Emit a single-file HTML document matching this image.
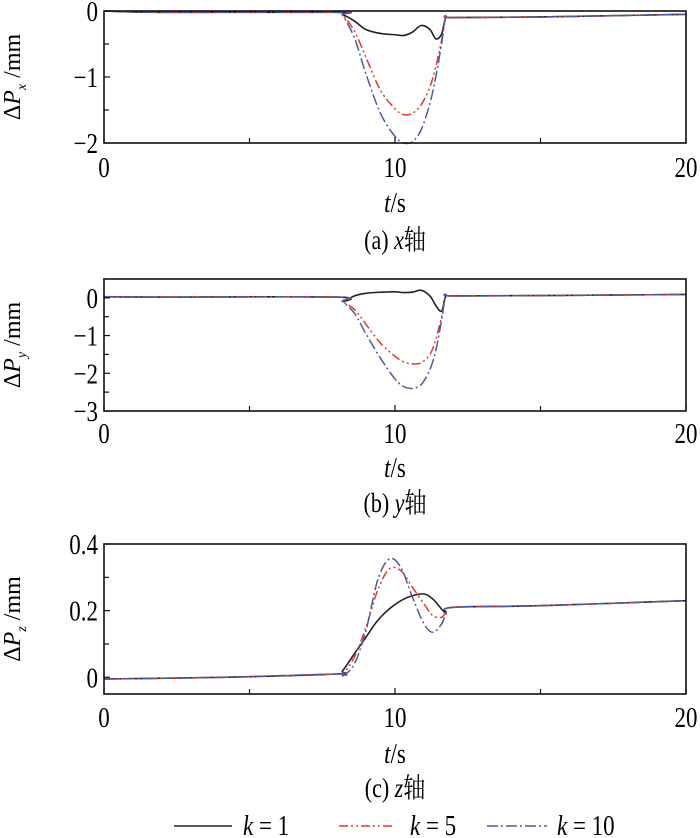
<!DOCTYPE html>
<html><head><meta charset="utf-8"><style>
html,body{margin:0;padding:0;background:#fff;}
svg{display:block;font-family:"Liberation Serif","Noto Serif CJK SC",serif;}
</style></head><body>
<svg id="chart" width="700" height="838" viewBox="0 0 700 838" xmlns="http://www.w3.org/2000/svg"></svg>
<script>
const tAB = [0,2,8,8.2,8.6,9,9.5,10,10.3,10.6,10.9,11.2,11.4,11.6,11.75,12,15,20];
const ax_k1 = [0,-0.02,-0.02,-0.05,-0.15,-0.28,-0.34,-0.36,-0.37,-0.32,-0.22,-0.28,-0.42,-0.35,-0.1,-0.1,-0.09,-0.05];
const ax_k5 = [0,-0.02,-0.02,-0.06,-0.3,-0.7,-1.2,-1.48,-1.57,-1.55,-1.42,-1.15,-0.85,-0.45,-0.1,-0.1,-0.09,-0.05];
const ax_k10 = [0,-0.02,-0.02,-0.07,-0.4,-0.95,-1.55,-1.9,-2.0,-1.98,-1.8,-1.4,-1.0,-0.5,-0.1,-0.1,-0.09,-0.05];
const by_k1 = [0.03,0.02,0.02,-0.1,0.05,0.12,0.15,0.16,0.14,0.15,0.2,0.05,-0.2,-0.35,0.05,0.05,0.06,0.09];
const by_k5 = [0.03,0.02,0.02,-0.1,-0.3,-0.7,-1.2,-1.55,-1.7,-1.75,-1.72,-1.5,-1.1,-0.5,0.05,0.05,0.06,0.09];
const by_k10 = [0.03,0.02,0.02,-0.1,-0.4,-0.95,-1.6,-2.15,-2.35,-2.4,-2.3,-1.9,-1.4,-0.6,0.05,0.05,0.06,0.09];
const tC = [0,4,8,8.2,8.6,9,9.4,9.8,10.2,10.6,11,11.3,11.6,11.75,12,15,20];
const cz_k1 = [-0.005,0,0.01,0.02,0.07,0.12,0.17,0.205,0.23,0.245,0.25,0.235,0.205,0.195,0.21,0.215,0.23];
const cz_k5 = [-0.005,0,0.01,0.01,0.06,0.15,0.26,0.325,0.32,0.27,0.22,0.185,0.18,0.195,0.21,0.215,0.23];
const cz_k10 = [-0.005,0,0.01,0.005,0.04,0.14,0.29,0.355,0.33,0.24,0.16,0.135,0.16,0.19,0.21,0.215,0.23];
const xTicks = [0,10,20];
const xMinor = [5,15];
const yTicksA = [0,-1,-2];
const yTicksB = [0,-1,-2,-3];
const yTicksC = [0,0.2,0.4];
const legendLabels = ["k = 1","k = 5","k = 10"];

const NS="http://www.w3.org/2000/svg";
const svg=document.getElementById('chart');
function el(tag,attrs,parent){const e=document.createElementNS(NS,tag);for(const k in attrs)e.setAttribute(k,attrs[k]);(parent||svg).appendChild(e);return e;}
const SY=1.25;
function stext(x,y,anchor,size,parent){return el('text',{x:0,y:0,transform:'translate('+x+','+y+') scale(1,'+SY+')','text-anchor':anchor,'font-size':size},parent);}
const X0=104,X1=686;
function sx(t){return X0+(t/20)*(X1-X0);}
const styles=[{c:'#222',d:'none',w:1.6},{c:'#e03a28',d:'9 3 2 3 2 3',w:1.5},{c:'#4a5aa0',d:'11 3 2 3',w:1.5}];
function smooth(pts){let d='M'+pts[0][0]+','+pts[0][1];for(let i=0;i<pts.length-1;i++){const p0=pts[Math.max(0,i-1)],p1=pts[i],p2=pts[i+1],p3=pts[Math.min(pts.length-1,i+2)];const c1x=p1[0]+(p2[0]-p0[0])/6,c1y=p1[1]+(p2[1]-p0[1])/6,c2x=p2[0]-(p3[0]-p1[0])/6,c2y=p2[1]-(p3[1]-p1[1])/6;d+=' C'+c1x+','+c1y+' '+c2x+','+c2y+' '+p2[0]+','+p2[1];}return d;}

function panel(id,top,bot,ymin,ymax,yt,yminor,ts,series,sub,labY,tsY,capY,capLetter,capAxis){
  const g=el('g',{});
  
  
  function sy(v){return bot-(v-ymin)/(ymax-ymin)*(bot-top);}
  series.forEach((s,i)=>{
    const pts=ts.map((t,j)=>[sx(t),sy(s[j])]);
    const p=el('path',{d:smooth(pts),fill:'none',stroke:styles[i].c,'stroke-width':styles[i].w,'stroke-dasharray':styles[i].d},g);
    
    
  });
  const f=el('rect',{x:X0,y:top,width:X1-X0,height:bot-top,fill:'none',stroke:'#111','stroke-width':1.6},g);
  
  
  xTicks.forEach(t=>{
    el('line',{x1:sx(t),x2:sx(t),y1:bot,y2:bot-6,stroke:'#111','stroke-width':1.2},g);
    const tx=stext(sx(t),labY+10,'middle',23,g);tx.textContent=t;
    
    
  });
  xMinor.forEach(t=>el('line',{x1:sx(t),x2:sx(t),y1:bot,y2:bot-5,stroke:'#111','stroke-width':1.2},g));
  yt.forEach(v=>{
    el('line',{x1:X0,x2:X0+6,y1:sy(v),y2:sy(v),stroke:'#111','stroke-width':1.2},g);
    const tx=stext(X0-6,sy(v)+10,'end',23,g);tx.textContent=String(v).replace('-','\u2212');
    
    
  });
  yminor.forEach(v=>el('line',{x1:X0,x2:X0+5,y1:sy(v),y2:sy(v),stroke:'#111','stroke-width':1.2},g));
  const cy=(top+bot)/2;
  const yl=el('text',{x:0,y:0,transform:'translate(20,'+cy+') rotate(-90)','text-anchor':'middle','font-size':24},g);
  yl.innerHTML='\u0394<tspan font-style="italic">P</tspan><tspan font-style="italic" font-size="14" dy="6">'+sub+'</tspan><tspan dy="-6"> /mm</tspan>';
  
  
  const xl=stext(395,tsY+10,'middle',23,g);
  xl.innerHTML='<tspan font-style="italic">t</tspan>/s';
  
  
  const cp=stext(395,capY+9,'middle',22,g);
  cp.innerHTML='('+capLetter+') <tspan font-style="italic">'+capAxis+'</tspan>轴';
  
  
}
panel('a',11,143,-2,0,yTicksA,[-0.5,-1.5],tAB,[ax_k1,ax_k5,ax_k10],'x',167,202,240,'a','x');
panel('b',279,411,-3,0.5,yTicksB,[-0.5,-1.5,-2.5],tAB,[by_k1,by_k5,by_k10],'y',433,467,503,'b','y');
panel('c',544,694,-0.05,0.4,yTicksC,[0.1,0.3],tC,[cz_k1,cz_k5,cz_k10],'z',717,753,788,'c','z');

const lg=el('g',{});


const lx=[[174,232,243],[339,393,410],[487,547,557]];
legendLabels.forEach((l,i)=>{
  const ln=el('line',{x1:lx[i][0],x2:lx[i][1],y1:826,y2:826,stroke:styles[i].c,'stroke-width':styles[i].w,'stroke-dasharray':styles[i].d},lg);
  
  
  const t=stext(lx[i][2],835,'start',23,lg);
  const parts=l.split(' = ');
  t.innerHTML='<tspan font-style="italic">'+parts[0]+'</tspan> = '+parts[1];
  
  
});
</script>
</body></html>
